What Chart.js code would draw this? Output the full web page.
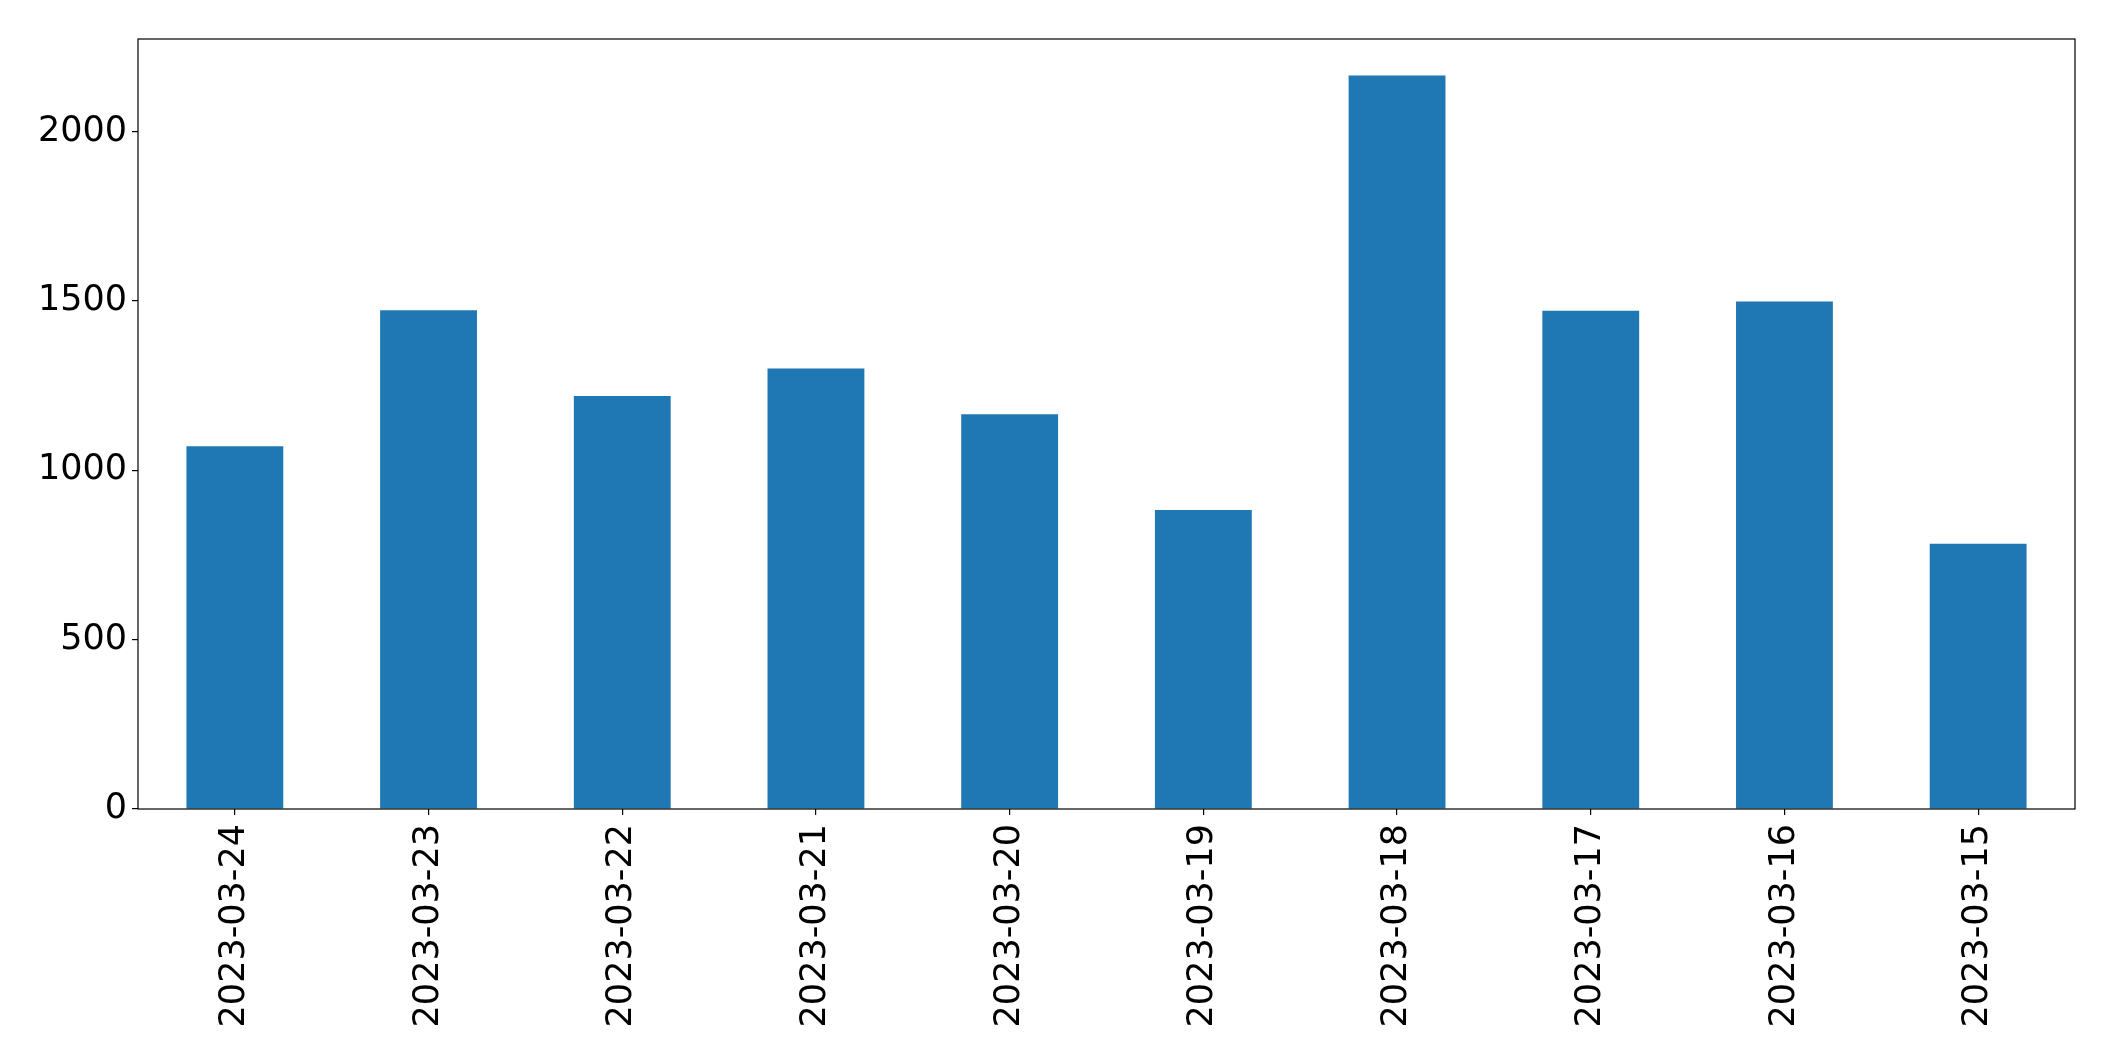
<!DOCTYPE html>
<html>
<head>
<meta charset="utf-8">
<script src="https://cdn.jsdelivr.net/npm/chart.js@4/dist/chart.umd.min.js"></script>
<style>
  html, body { margin: 0; padding: 0; background: #fff; }
  #wrap { width: 2115px; height: 1061px; }
</style>
</head>
<body>
<div id="wrap"><canvas id="barChart" width="2115" height="1061"></canvas></div>
<script>
// dates as listed on the x axis (newest first)
var dates = ['2023-03-24', '2023-03-23', '2023-03-22', '2023-03-21', '2023-03-20',
             '2023-03-19', '2023-03-18', '2023-03-17', '2023-03-16', '2023-03-15'];
var counts = [1071, 1472, 1219, 1300, 1165, 883, 2165, 1471, 1498, 783];
var yTicks = [0, 500, 1000, 1500, 2000];
var yMax = 2273;

// matplotlib style frame round the plot area
var frame = {
  id: 'frame',
  afterDraw: function(chart) {
    var a = chart.chartArea;
    var ctx = chart.ctx;
    ctx.save();
    ctx.strokeStyle = '#000';
    ctx.lineWidth = 1.2;
    ctx.strokeRect(a.left, a.top, a.right - a.left, a.bottom - a.top);
    ctx.restore();
  }
};

var ctx = document.getElementById('barChart').getContext('2d');
new Chart(ctx, {
  type: 'bar',
  data: {
    labels: dates,
    datasets: [{
      data: counts,
      backgroundColor: '#1f77b4',
      borderWidth: 0,
      barPercentage: 0.5,
      categoryPercentage: 1.0
    }]
  },
  options: {
    responsive: false,
    animation: false,
    layout: { padding: { left: 0, right: 40, top: 39, bottom: 0 } },
    plugins: {
      legend: { display: false },
      tooltip: { enabled: false }
    },
    scales: {
      x: {
        offset: true,
        grid: { display: true, offset: false, drawOnChartArea: false, drawTicks: true, tickLength: 6, color: '#000', lineWidth: 1.2 },
        border: { display: false },
        ticks: {
          color: '#000',
          font: { family: 'DejaVu Sans', size: 35 },
          minRotation: 90,
          maxRotation: 90,
          padding: 9,
          autoSkip: false
        },
        afterFit: function(scale) { scale.height = 252; }
      },
      y: {
        min: 0,
        max: yMax,
        grid: { display: true, drawOnChartArea: false, drawTicks: true, tickLength: 6, color: '#000', lineWidth: 1.2 },
        border: { display: false },
        ticks: {
          color: '#000',
          font: { family: 'DejaVu Sans', size: 35 },
          padding: 5,
          callback: function(value) { return String(value); }
        },
        afterBuildTicks: function(scale) {
          scale.ticks = yTicks.map(function(v) { return { value: v }; });
        },
        afterFit: function(scale) { scale.width = 138; }
      }
    }
  },
  plugins: [frame]
});
</script>
</body>
</html>
